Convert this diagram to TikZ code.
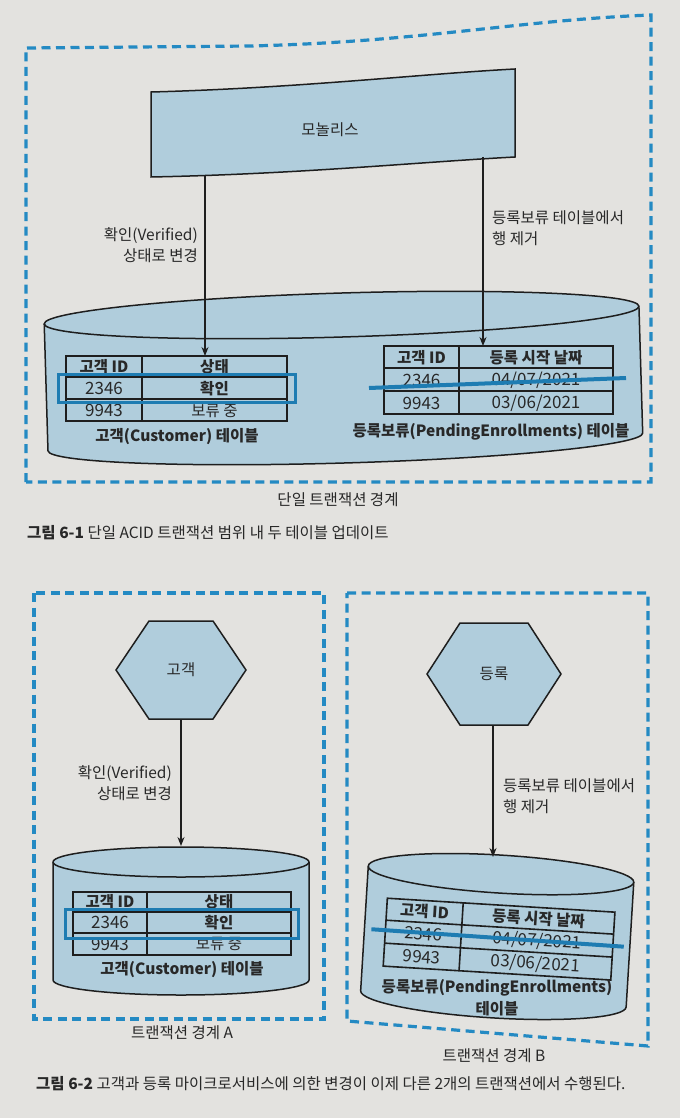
\documentclass[tikz,border=0pt]{standalone}
\usepackage{fontspec}
\setmainfont{Noto Sans CJK KR}
\usetikzlibrary{arrows.meta}
\definecolor{pagebg}{RGB}{227,226,223}
\definecolor{dashblue}{RGB}{36,138,195}
\definecolor{fillblue}{RGB}{176,205,220}
\definecolor{hiblue}{RGB}{30,124,178}
\definecolor{ink}{RGB}{30,30,30}
\definecolor{txt}{RGB}{40,40,40}
\tikzset{
  frame/.style={draw=dashblue, line width=3.2pt, dash pattern=on 9pt off 5.5pt},
  shapefill/.style={draw=ink, fill=fillblue, line width=1.5pt},
  edgeline/.style={draw=ink, line width=1.5pt},
  link/.style={draw=ink, line width=1.2pt, -{Stealth[length=9pt,width=7pt]}},
  grid/.style={draw=ink, line width=1.6pt},
  lbl/.style={font=\fontsize{15.5}{21}\selectfont, text=txt, inner sep=0pt},
  num/.style={font=\fontsize{17}{20}\selectfont, text=txt, inner sep=0pt},
  blbl/.style={font=\fontsize{15.5}{18}\selectfont\bfseries, text=txt, inner sep=0pt},
  hilite/.style={draw=hiblue, line width=3pt},
  strike/.style={draw=hiblue, line width=4pt},
}
\begin{document}
\begin{tikzpicture}[x=1pt,y=-1pt]
\fill[pagebg] (0,0) rectangle (680,1118);
\useasboundingbox (0,0) rectangle (680,1118);

% ================= Figure 6-1 =================
\draw[frame] (26,482) -- (26,48) -- (250,46) .. controls (420,42) and (520,20) .. (651,15) -- (651,482) -- cycle;

\path[shapefill] (151,92) .. controls (300,88) and (420,74) .. (515,69) -- (515,157)
  .. controls (420,162) and (300,174) .. (151,177) -- cycle;
\node[lbl] (mono) at (330,130) {모놀리스};

% cylinder
\begin{scope}[rotate around={1.7:(343,380)}]
\path[shapefill] (46,315) -- (46,442) arc[start angle=180,end angle=360,x radius=297.5pt,y radius=21pt]
  -- (641,315) arc[start angle=0,end angle=180,x radius=297.5pt,y radius=22pt] -- cycle;
\draw[edgeline] (46,315) arc[start angle=180,end angle=360,x radius=297.5pt,y radius=22pt];
\end{scope}

% arrows
\coordinate (m1) at (205,176);
\coordinate (t1) at (205,356);
\coordinate (m2) at (483,157);
\coordinate (t2) at (483,346);
\draw[link] (m1) -- (t1);
\draw[link] (m2) -- (t2);
\node[lbl, anchor=east, align=right] (lab1) at (198,245) {확인(Verified)\\상태로 변경};
\node[lbl, anchor=west, align=left] (lab2) at (492,228) {등록보류 테이블에서\\행 제거};

% left table
\draw[grid] (66,356) rectangle (287,421);
\draw[grid] (66,377) -- (287,377) (66,399) -- (287,399) (142,356) -- (142,421);
\node[blbl] (ah1) at (104,367) {고객 ID};
\node[blbl] (ah2) at (214.5,367) {상태};
\node[num] (a11) at (104,388.5) {2346};
\node[blbl] (a12) at (214.5,388.5) {확인};
\node[num] (a21) at (104,410.5) {9943};
\node[lbl] (a22) at (214.5,410.5) {보류 중};
\draw[hilite] (58,374) rectangle (295,402);
\node[blbl] (atab) at (177,437) {고객(Customer) 테이블};

% right table
\draw[grid] (384,346) rectangle (613,414);
\draw[grid] (384,368) -- (613,368) (384,391) -- (613,391) (459,346) -- (459,414);
\node[blbl] (bh1) at (421.5,357.5) {고객 ID};
\node[blbl] (bh2) at (536,357.5) {등록 시작 날짜};
\node[num] (b11) at (421.5,380) {2346};
\node[num] (b12) at (536,380) {04/07/2021};
\node[num] (b21) at (421.5,403) {9943};
\node[num] (b22) at (536,403) {03/06/2021};
\coordinate (s1a) at (369,388);
\coordinate (s1b) at (626,378);
\draw[strike] (s1a) -- (s1b);
\node[blbl] (btab) at (491,432) {등록보류(PendingEnrollments) 테이블};

\node[lbl] (bound1) at (338,500) {단일 트랜잭션 경계};
\node[lbl, anchor=west] (cap1) at (27,533) {\textbf{그림 6-1} 단일 ACID 트랜잭션 범위 내 두 테이블 업데이트};

% ================= Figure 6-2 =================
\draw[frame] (34,593) rectangle (324,1019);
\draw[frame] (347,593) -- (648,593) -- (648,1046) -- (347,1021) -- cycle;

% hexagons
\path[shapefill] (116,670) -- (149,621) -- (213,621) -- (246,670) -- (213,719) -- (149,719) -- cycle;
\node[lbl] (cust) at (181,670) {고객};
\path[shapefill] (427,674) -- (460,623) -- (528,623) -- (561,674) -- (528,725) -- (460,725) -- cycle;
\node[lbl] (enrol) at (494,674) {등록};

% left cylinder
\path[shapefill] (53,862) -- (53,980) arc[start angle=180,end angle=360,x radius=128pt,y radius=15pt]
  -- (309,862) arc[start angle=0,end angle=180,x radius=128pt,y radius=15pt] -- cycle;
\draw[edgeline] (53,862) arc[start angle=180,end angle=360,x radius=128pt,y radius=15pt];

\coordinate (h1b) at (181,719);
\coordinate (c1t) at (181,846);
\draw[link] (h1b) -- (c1t);
\node[lbl, anchor=east, align=right] (lab3) at (172,783) {확인(Verified)\\상태로 변경};

\draw[grid] (73,892) rectangle (291,955);
\draw[grid] (73,912) -- (291,912) (73,933) -- (291,933) (147,892) -- (147,955);
\node[blbl] (ch1) at (110,902) {고객 ID};
\node[blbl] (ch2) at (219,902) {상태};
\node[num] (c11) at (110,922.5) {2346};
\node[blbl] (c12) at (219,922.5) {확인};
\node[num] (c21) at (110,944) {9943};
\node[lbl] (c22) at (219,944) {보류 중};
\draw[hilite] (65,909) rectangle (298,938);
\node[blbl] (ctab) at (182,970) {고객(Customer) 테이블};

% right cylinder (slightly tilted)
\coordinate (h2b) at (493,725);
\coordinate (c2t) at (493,857);
\begin{scope}[rotate around={-3.5:(497,940)}]
\path[shapefill] (364,874) -- (364,999) arc[start angle=180,end angle=360,x radius=133pt,y radius=19pt]
  -- (630,874) arc[start angle=0,end angle=180,x radius=133pt,y radius=19pt] -- cycle;
\draw[edgeline] (364,874) arc[start angle=180,end angle=360,x radius=133pt,y radius=19pt];
\draw[grid] (385,905) rectangle (613,973);
\draw[grid] (385,927) -- (613,927) (385,950) -- (613,950) (461,905) -- (461,973);
\node[blbl, transform shape] (dh1) at (423,916) {고객 ID};
\node[blbl, transform shape] (dh2) at (537,916) {등록 시작 날짜};
\node[num, transform shape] (d11) at (423,938.5) {2346};
\node[num, transform shape] (d12) at (537,938.5) {04/07/2021};
\node[num, transform shape] (d21) at (423,961.5) {9943};
\node[num, transform shape] (d22) at (537,961.5) {03/06/2021};
\coordinate (s2a) at (371,937);
\coordinate (s2b) at (624,939);
\draw[strike] (s2a) -- (s2b);
\end{scope}
\node[blbl] (dtab1) at (497,988) {등록보류(PendingEnrollments)};
\node[blbl] (dtab2) at (497,1009) {테이블};
\draw[link] (h2b) -- (c2t);
\node[lbl, anchor=west, align=left] (lab4) at (503,796) {등록보류 테이블에서\\행 제거};

\node[lbl] (boundA) at (182,1033) {트랜잭션 경계 A};
\node[lbl] (boundB) at (494,1056) {트랜잭션 경계 B};
\node[lbl, anchor=west] (cap2) at (36,1084) {\textbf{그림 6-2} 고객과 등록 마이크로서비스에 의한 변경이 이제 다른 2개의 트랜잭션에서 수행된다.};
\end{tikzpicture}
\end{document}
